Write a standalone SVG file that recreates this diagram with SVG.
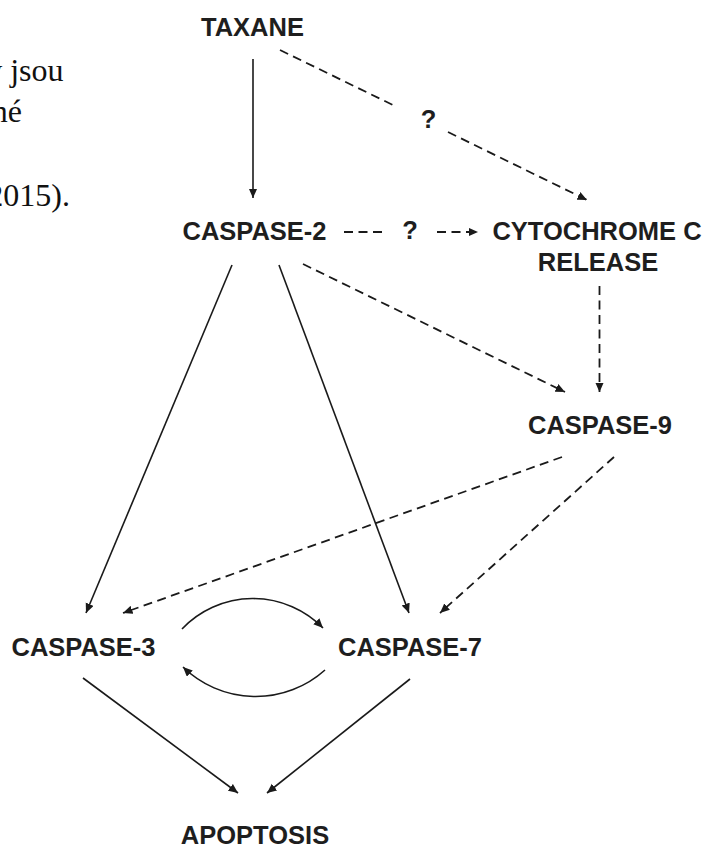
<svg xmlns="http://www.w3.org/2000/svg" width="705" height="845" viewBox="0 0 705 845">
  <style>
    .lbl { font-family: "Liberation Sans", Arial, sans-serif; font-weight: bold; font-size: 25.5px; fill: #1e1e1e; text-anchor: middle; }
    .body { font-family: "Liberation Serif", "Times New Roman", serif; font-size: 32px; fill: #111; text-anchor: end; }
    .solid { fill: none; stroke: #1a1a1a; stroke-width: 1.6; }
    .dash { fill: none; stroke: #1a1a1a; stroke-width: 1.8; stroke-dasharray: 9 5.5; }
  </style>
  <defs>
    <marker id="head" markerUnits="userSpaceOnUse" markerWidth="10" markerHeight="9" refX="9.5" refY="4.25" orient="auto">
      <path d="M0,0 L9.5,4.25 L0,8.5 z" fill="#1a1a1a"/>
    </marker>
  </defs>
  <rect width="705" height="845" fill="#fff"/>

  <!-- running text at the left edge of the page -->
  <g id="page-text">
    <text class="body" x="63.5" y="81">y jsou</text>
    <text class="body" x="22" y="122">né</text>
    <text class="body" x="70" y="206">2015).</text>
  </g>

  <!-- connectors -->
  <g id="connectors">
    <path class="solid" d="M253,59 L253,198" marker-end="url(#head)"/>
    <path class="dash" d="M280,50 L397,107"/>
    <path class="dash" d="M448,132 L587,200" marker-end="url(#head)"/>
    <path class="dash" d="M344,232 L384,232" stroke-dasharray="9 6"/>
    <path class="dash" d="M437,232 L478,232" stroke-dasharray="9 6" marker-end="url(#head)"/>
    <path class="dash" d="M599.5,286 L599.5,392" marker-end="url(#head)"/>
    <path class="dash" d="M303,264 L565,392" marker-end="url(#head)"/>
    <path class="dash" d="M562,457 L123,613" marker-end="url(#head)"/>
    <path class="dash" d="M614,457 L440,613" marker-end="url(#head)"/>
    <path class="solid" d="M232,265 L86,613" marker-end="url(#head)"/>
    <path class="solid" d="M279,265 L409,613" marker-end="url(#head)"/>
    <path class="solid" d="M182,629 A98,98 0 0 1 323,628" marker-end="url(#head)"/>
    <path class="solid" d="M325,670 A104,104 0 0 1 183,667" marker-end="url(#head)"/>
    <path class="solid" d="M83,678 L238,793" marker-end="url(#head)"/>
    <path class="solid" d="M410,679 L267,793" marker-end="url(#head)"/>
  </g>

  <!-- unknown-link labels -->
  <g id="q-labels">
    <text class="lbl" x="428.5" y="128">?</text>
    <text class="lbl" x="410" y="239">?</text>
  </g>

  <!-- nodes -->
  <g id="taxane"><text class="lbl" x="252.5" y="36">TAXANE</text></g>
  <g id="caspase-2"><text class="lbl" x="254.5" y="240">CASPASE-2</text></g>
  <g id="cytochrome-c">
    <text class="lbl" x="597" y="239.5">CYTOCHROME C</text>
    <text class="lbl" x="598" y="271">RELEASE</text>
  </g>
  <g id="caspase-9"><text class="lbl" x="600" y="434">CASPASE-9</text></g>
  <g id="caspase-3"><text class="lbl" x="83.5" y="656">CASPASE-3</text></g>
  <g id="caspase-7"><text class="lbl" x="410" y="656">CASPASE-7</text></g>
  <g id="apoptosis"><text class="lbl" x="255" y="844">APOPTOSIS</text></g>
</svg>
